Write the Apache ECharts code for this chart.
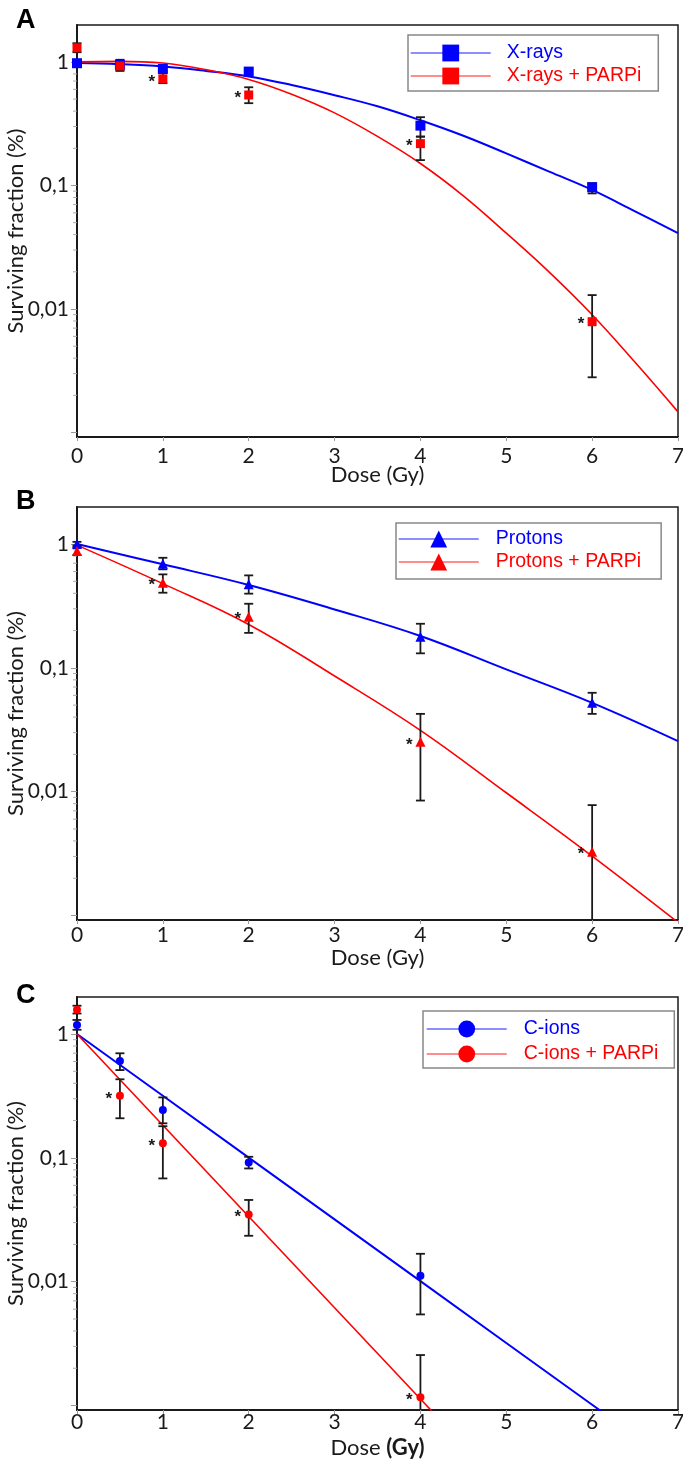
<!DOCTYPE html>
<html><head><meta charset="utf-8">
<script src="https://cdn.jsdelivr.net/npm/echarts@6/dist/echarts.min.js"></script>
<style>html,body{margin:0;padding:0;background:#fff}#c{width:683px;height:1459px}</style>
</head><body><div id="c"></div>
<script>
// ---------- axes / ticks ----------
const doseTicks = ['0','1','2','3','4','5','6','7'];
const yTickVals = [1, 0.1, 0.01];
const yTickLabels = ['1', '0,1', '0,01'];
const yMinorTicks = [0.002,0.003,0.004,0.005,0.006,0.007,0.008,0.009,
                     0.02,0.03,0.04,0.05,0.06,0.07,0.08,0.09,
                     0.2,0.3,0.4,0.5,0.6,0.7,0.8,0.9];
const panelLetters = ['A', 'B', 'C'];
const seriesNames = [
  ['X-rays', 'X-rays + PARPi'],
  ['Protons', 'Protons + PARPi'],
  ['C-ions', 'C-ions + PARPi']
];

// ---------- Panel A : X-rays ----------
const aDose      = [0, 0.5, 1, 2, 4, 6];
const aXray      = [0.976, 0.948, 0.878, 0.835, 0.305, 0.0967];
const aXrayLo    = [0.938, 0.845, 0.845, 0.794, 0.2485, 0.0862];
const aXrayHi    = [1.021, 1.041, 0.917, 0.876, 0.357, 0.1044];
const aXrayP     = [1.302, 0.928, 0.729, 0.540, 0.218, 0.00789];
const aXrayPLo   = [1.198, 0.866, 0.673, 0.4634, 0.1604, 0.0028];
const aXrayPHi   = [1.417, 1.0, 0.81, 0.6235, 0.2485, 0.01296];
const aSig       = [1, 2, 4, 6];
const aFitDose   = [0, 0.5, 1, 1.5, 2, 2.5, 3, 3.5, 4, 4.5, 5, 5.5, 6, 6.5, 7];
const aFitXray   = [0.979, 0.958, 0.917, 0.845, 0.763, 0.650, 0.538, 0.437, 0.337, 0.2525, 0.1818, 0.1294, 0.0920, 0.0617, 0.0411];
const aFitXrayP  = [1.0, 1.0104, 0.979, 0.866, 0.722, 0.548, 0.387, 0.2495, 0.1506, 0.0824, 0.0411, 0.01987, 0.00898, 0.0037, 0.00147];

// ---------- Panel B : Protons ----------
const bDose      = [0, 1, 2, 4, 6];
const bProt      = [1.0, 0.6924, 0.4725, 0.1784, 0.0522];
const bProtLo    = [0.974, 0.6245, 0.3973, 0.131, 0.0425];
const bProtHi    = [1.041, 0.774, 0.558, 0.227, 0.0629];
const bProtP     = [0.8766, 0.4868, 0.2587, 0.02526, 0.00327];
const bProtPLo   = [0.815, 0.4043, 0.1916, 0.00848, 0.0005];
const bProtPHi   = [0.9454, 0.5687, 0.3293, 0.0425, 0.00779];
const bSig       = [1, 2, 4, 6];
const bFitDose   = [0, 1, 2, 3, 4, 5, 6, 7];
const bFitProt   = [1.0, 0.6855, 0.4666, 0.2963, 0.1808, 0.0972, 0.0522, 0.02563];
const bFitProtP  = [0.9795, 0.4786, 0.224, 0.0859, 0.0313, 0.0098, 0.00302, 0.00088];

// ---------- Panel C : C-ions ----------
const cDose      = [0, 0.5, 1, 2, 4];
const cIon       = [1.185, 0.6053, 0.2432, 0.0918, 0.01116];
const cIonLo     = [1.082, 0.5113, 0.19, 0.0821, 0.00544];
const cIonHi     = [1.2986, 0.6988, 0.3076, 0.102, 0.0168];
const cIonP      = [1.568, 0.3167, 0.1311, 0.0348, 0.001164];
const cIonPLo    = [1.464, 0.2087, 0.0682, 0.02348, 0.0005];
const cIonPHi    = [1.692, 0.4309, 0.18, 0.0457, 0.002556];
const cSig       = [0.5, 1, 2, 4];
const cFitDose   = [0, 1, 2, 3, 4, 5, 6, 7];
const cFitIon    = [1.0, 0.317, 0.1005, 0.03185, 0.0101, 0.0032, 0.001015, 0.000322];
const cFitIonP   = [1.0, 0.1833, 0.0336, 0.00616, 0.00113, 0.000207, 0.000038, 0.000007];

// ---------- styling ----------
const BLUE = '#0000ff', RED = '#ff0000', INK = '#1a1a1a';
const FONT = 'Lato';
const Y_MIN = 0.00092, Y_MAX = 1.99;
const grids = [
  {left: 77, right: 5, top: 25, height: 412},
  {left: 77, right: 5, top: 507, height: 413},
  {left: 77, right: 5, top: 997, height: 413}
];
const xLabelMargins = [9, 5, 2];
const legendPos = [
  {left: 408, top: 35, padding: [8, 17, 5, 2], itemGap: 3, textPad: 11},
  {left: 396, top: 523, padding: [6, 20, 7, 2], itemGap: 3, textPad: 12},
  {left: 423, top: 1011, padding: [8, 16, 4, 3], itemGap: 5, textPad: 12}
];
const symbols = ['rect', 'triangle', 'circle'];
const symSizes = [[10, 9], [10, 10], [8, 8]];
const letterTops = [2, 483, 977];

const panels = [
  {dose: aDose, v: [aXray, aXrayP], lo: [aXrayLo, aXrayPLo], hi: [aXrayHi, aXrayPHi], sig: aSig,
   fitDose: aFitDose, fit: [aFitXray, aFitXrayP], smooth: true},
  {dose: bDose, v: [bProt, bProtP], lo: [bProtLo, bProtPLo], hi: [bProtHi, bProtPHi], sig: bSig,
   fitDose: bFitDose, fit: [bFitProt, bFitProtP], smooth: true},
  {dose: cDose, v: [cIon, cIonP], lo: [cIonLo, cIonPLo], hi: [cIonHi, cIonPHi], sig: cSig,
   fitDose: cFitDose, fit: [cFitIon, cFitIonP], smooth: false}
];

function yLabel(v) {
  for (let i = 0; i < yTickVals.length; i++) {
    if (Math.abs(Math.log10(v) - Math.log10(yTickVals[i])) < 1e-6) return yTickLabels[i];
  }
  return '';
}

const xAxes = [], yAxes = [], series = [], legends = [], titles = [];
panels.forEach((p, k) => {
  xAxes.push({
    type: 'value', gridIndex: k, min: 0, max: 7, interval: 1,
    name: k === 2 ? '{n|Dose }{b|(Gy)}' : 'Dose (Gy)',
    nameLocation: 'middle', nameGap: 27, nameMoveOverlap: false,
    nameTextStyle: {fontFamily: FONT, fontSize: 22, color: INK,
      rich: {n: {fontFamily: FONT, fontSize: 22, color: INK}, b: {fontFamily: FONT, fontSize: 22, fontWeight: 'bold', color: INK}}},
    axisLine: {show: true, onZero: false, lineStyle: {color: INK, width: 2}},
    axisTick: {show: true, length: 4, lineStyle: {color: '#999'}},
    axisLabel: {margin: xLabelMargins[k], fontFamily: FONT, fontSize: 21, color: INK,
      formatter: v => doseTicks[Math.round(v)] ?? ''},
    splitLine: {show: false}
  });
  yAxes.push({
    type: 'log', gridIndex: k, min: Y_MIN, max: Y_MAX, logBase: 10,
    name: 'Surviving fraction (%)', nameLocation: 'middle', nameGap: 50, nameMoveOverlap: false,
    nameTextStyle: {fontFamily: FONT, fontSize: 22, color: INK},
    axisLine: {show: true, onZero: false, lineStyle: {color: INK, width: 2}},
    axisTick: {show: true, length: 6, lineStyle: {color: '#999'}},
    axisLabel: {margin: 8, fontFamily: FONT, fontSize: 21, color: INK, formatter: yLabel,
      showMinLabel: false, showMaxLabel: false},
    splitLine: {show: false}
  });
  titles.push({text: panelLetters[k], left: 11, top: letterTops[k],
    textStyle: {fontFamily: 'Liberation Sans', fontSize: 27, fontWeight: 'bold', color: '#000'}});
  const names = seriesNames[k];
  const cols = [BLUE, RED];
  // fitted curves (legend entries)
  [0, 1].forEach(j => {
    series.push({
      type: 'line', name: names[j], xAxisIndex: k, yAxisIndex: k,
      data: p.fitDose.map((d, i) => [d, p.fit[j][i]]),
      smooth: p.smooth ? 0.4 : false, showSymbol: false, symbol: symbols[k], symbolSize: 12,
      color: cols[j], lineStyle: {color: cols[j], width: j === 0 ? 2 : 1.6},
      z: 2, silent: true, clip: true
    });
  });
  // error bars
  [0, 1].forEach(j => {
    series.push({
      type: 'custom', xAxisIndex: k, yAxisIndex: k, z: 3, silent: true,
      data: p.dose.map((d, i) => [d, p.lo[j][i], p.hi[j][i]]),
      encode: {x: 0, y: [1, 2]},
      renderItem: (params, api) => {
        const cs = params.coordSys;
        const x = api.value(0);
        const pH = api.coord([x, api.value(2)]);
        const pL = api.coord([x, api.value(1)]);
        const bottom = cs.y + cs.height;
        let yl = pL[1], capL = true;
        if (yl > bottom) { yl = bottom; capL = false; }
        const st = {stroke: INK, lineWidth: 1.8};
        const w = 4.5;
        const ch = [
          {type: 'line', shape: {x1: pH[0], y1: pH[1], x2: pH[0], y2: yl}, style: st},
          {type: 'line', shape: {x1: pH[0] - w, y1: pH[1], x2: pH[0] + w, y2: pH[1]}, style: st}
        ];
        if (capL) ch.push({type: 'line', shape: {x1: pL[0] - w, y1: yl, x2: pL[0] + w, y2: yl}, style: st});
        return {type: 'group', children: ch};
      }
    });
  });
  // markers
  [0, 1].forEach(j => {
    series.push({
      type: 'scatter', name: names[j] + ' data', xAxisIndex: k, yAxisIndex: k,
      data: p.dose.map((d, i) => [d, p.v[j][i]]),
      symbol: symbols[k], symbolSize: symSizes[k][j],
      itemStyle: {color: cols[j], opacity: 1}, z: 4, silent: true
    });
  });
  // significance asterisks
  series.push({
    type: 'custom', xAxisIndex: k, yAxisIndex: k, z: 5, silent: true,
    data: p.sig.map(d => [d, p.v[1][p.dose.indexOf(d)]]),
    renderItem: (params, api) => {
      const pt = api.coord([api.value(0), api.value(1)]);
      return {type: 'text', x: pt[0] - 11, y: pt[1] + 3,
        style: {text: '*', fill: INK, font: 'bold 17px "Liberation Sans"', align: 'center', verticalAlign: 'middle'}};
    }
  });
  // minor ticks on log axis
  series.push({
    type: 'custom', xAxisIndex: k, yAxisIndex: k, z: 1, silent: true,
    data: yMinorTicks.map(v => [0, v]),
    renderItem: (params, api) => {
      const cs = params.coordSys;
      const pt = api.coord([0, api.value(1)]);
      return {type: 'line', shape: {x1: cs.x - 4, y1: pt[1], x2: cs.x, y2: pt[1]},
        style: {stroke: '#aaa', lineWidth: 1}};
    }
  });
  const lp = legendPos[k];
  legends.push({
    data: [{name: names[0], textStyle: {color: BLUE}}, {name: names[1], textStyle: {color: RED}}],
    orient: 'vertical', left: lp.left, top: lp.top, padding: lp.padding,
    itemWidth: 80, itemHeight: 21, itemGap: lp.itemGap,
    borderColor: '#888', borderWidth: 1.5, backgroundColor: '#fff',
    textStyle: {fontFamily: 'Liberation Sans', fontSize: 19.5, padding: [0, 0, 0, lp.textPad]},
    lineStyle: {width: 1.5, opacity: 0.6},
    selectedMode: false
  });
});

const chart = echarts.init(document.getElementById('c'), null, {renderer: 'canvas'});
chart.setOption({
  animation: false,
  backgroundColor: '#fff',
  title: titles,
  grid: grids.map(g => Object.assign({show: true, borderColor: INK, borderWidth: 1.5,
    backgroundColor: 'transparent', containLabel: false, outerBoundsMode: 'none'}, g)),
  xAxis: xAxes,
  yAxis: yAxes,
  legend: legends,
  series: series
});
</script></body></html>
